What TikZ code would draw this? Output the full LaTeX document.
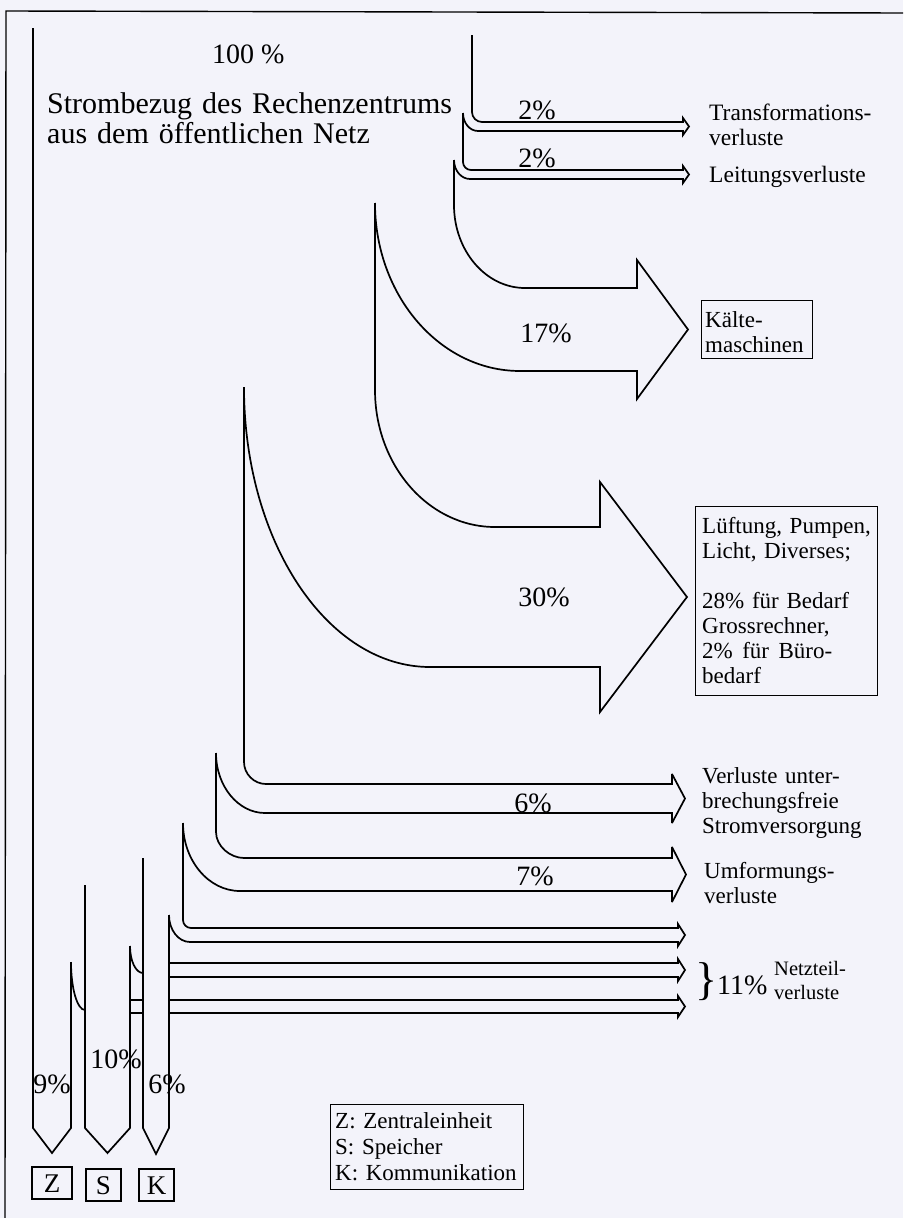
\documentclass[tikz,border=0pt]{standalone}
\usepackage{fontspec}
\setmainfont{Liberation Serif}
\definecolor{paper}{RGB}{243,243,250}
\begin{document}
\begin{tikzpicture}[x=1pt,y=-1pt,
  ln/.style={line width=1.7pt, line join=miter, miter limit=4},
  pct/.style={font=\fontsize{28}{30}\selectfont, inner sep=0pt},
  txt/.style={font=\fontsize{23}{25}\selectfont, inner sep=0pt, align=left},
  boxed/.style={draw, line width=1.4pt, inner sep=0pt},
  letter/.style={draw, line width=1.4pt, inner sep=0pt, text height=18pt, text depth=0pt, font=\fontsize{27}{27}\selectfont}]

\fill[paper] (0,0) rectangle (903,1218);
\useasboundingbox (0,0) rectangle (903,1218);

% frame
\draw[line width=1.4pt] (5,1218) -- (6,11) -- (903,13);

% ---- arrow 1: Transformationsverluste
\draw[ln] (472,35) -- (472,112) .. controls (472,117.5) and (476.5,122) .. (482,122) -- (683,122)
  -- (683,118) -- (689,126.5) -- (683,135) -- (683,131) -- (478,131)
  .. controls (469.7,131) and (463,122.9) .. (463,113);
% ---- arrow 2: Leitungsverluste
\draw[ln] (463,113) -- (463,162) .. controls (463,166.4) and (466.6,170) .. (471,170) -- (683,170)
  -- (683,166) -- (689,174.5) -- (683,183) -- (683,179) -- (470,179)
  .. controls (461.2,179) and (454,170.5) .. (454,160);
% ---- arrow 3: 17%
\draw[ln] (454,160) -- (454,205) .. controls (454,250.8) and (485.8,288) .. (525,288) -- (637,288)
  -- (637,260) -- (688,329.5) -- (637,399) -- (637,371) -- (520,371)
  .. controls (440,371) and (375,295.7) .. (375,203);
% ---- arrow 4: 30%
\draw[ln] (375,203) -- (375,390) .. controls (375,465.6) and (428.8,527) .. (495,527) -- (600,527)
  -- (600,482) -- (687,597) -- (600,712) -- (600,667) -- (430,667)
  .. controls (327.3,667) and (244,541.6) .. (244,387);
% ---- arrow 5: 6%
\draw[ln] (244,387) -- (244,762) .. controls (244,774) and (254,784) .. (266,784) -- (672,784)
  -- (672,774) -- (685,798.5) -- (672,823) -- (672,813) -- (265,813)
  .. controls (238,813) and (216,786) .. (216,753);
% ---- arrow 6: 7%
\draw[ln] (216,753) -- (216,832) .. controls (216,846) and (230,858) .. (244,858) -- (672,858)
  -- (672,847) -- (686,874.5) -- (672,902) -- (672,891) -- (240,891)
  .. controls (208.5,891) and (183,860.5) .. (183,823);
% ---- Netzteil arrow 1
\draw[ln] (183,823) -- (183,920) .. controls (183,924.4) and (186.6,928) .. (191,928) -- (678,928)
  -- (678,924) -- (685,935) -- (678,946) -- (678,942) -- (190,942)
  .. controls (178.4,942) and (169,929.9) .. (169,915);
% ---- Netzteil arrows 2 and 3
\draw[ln] (169,963) -- (678,963) -- (678,959) -- (685,970) -- (678,981) -- (678,977) -- (169,977);
\draw[ln] (169,1000) -- (678,1000) -- (678,996) -- (685,1006.5) -- (678,1017) -- (678,1013) -- (169,1013);
\draw[ln] (130,1000) -- (143,1000);
\draw[ln] (130,1013) -- (143,1013);

% ---- K arrow
\draw[ln] (169,915) -- (169,1128) -- (156,1154) -- (143,1128) -- (143,858);
% ---- S arrow
\draw[ln] (143,973) .. controls (135.8,973) and (130,960.9) .. (130,946);
\draw[ln] (130,946) -- (130,1128) -- (107.5,1153) -- (85,1128) -- (85,885);
% ---- Z arrow
\draw[ln] (85,1010) .. controls (77.3,1010) and (71,988.5) .. (71,962);
\draw[ln] (33,28) -- (33,1128) -- (52,1153) -- (71,1128) -- (71,962);

% ---- texts
\node[pct, anchor=base west] (hundert) at (212,63) {100 \%};
\node[pct, anchor=base west, text width=430pt, align=left, font=\fontsize{30}{30}\selectfont] (titel) at (47,113)
  {Strombezug des Rechenzentrums\\aus dem öffentlichen Netz};

\node[pct, anchor=base] (p1) at (537,119) {2\%};
\node[pct, anchor=base] (p2) at (537,167) {2\%};
\node[pct, anchor=base] (p3) at (546,342) {17\%};
\node[pct, anchor=base] (p4) at (544,606) {30\%};
\node[pct, anchor=base] (p5) at (533,812) {6\%};
\node[pct, anchor=base] (p6) at (535,885) {7\%};
\node[pct, anchor=base] (pz) at (52,1093) {9\%};
\node[pct, anchor=base] (ps) at (116,1068) {10\%};
\node[pct, anchor=base] (pk) at (167,1093) {6\%};

\node[txt, anchor=base west, text width=185pt, font=\fontsize{23.5}{25}\selectfont] (t1) at (709,120) {Transformations-\\verluste};
\node[txt, anchor=base west, font=\fontsize{23.5}{25}\selectfont] (t2) at (709,182) {Leitungsverluste};

\node[boxed, anchor=north west, minimum width=111pt, minimum height=58pt] (kbox) at (701,300) {};
\node[txt, anchor=base west, text width=105pt] (t3) at (705,327) {Kälte-\\maschinen};

\node[boxed, anchor=north west, minimum width=182pt, minimum height=189pt] (lbox) at (695,506) {};
\node[txt, anchor=base west, text width=174pt] (t4) at (702,533)
  {Lüftung, Pumpen,\\Licht, Diverses;\\[25pt]28\% für Bedarf\\Grossrechner,\\\makebox[130pt][s]{2\%\hfill für\hfill Büro-}\\bedarf};

\node[txt, anchor=base west, text width=180pt] (t5) at (702,783) {Verluste unter-\\brechungsfreie\\Stromversorgung};
\node[txt, anchor=base west, text width=180pt] (t6) at (704,878) {Umformungs-\\verluste};

\node[inner sep=0pt, anchor=base west, font=\fontsize{46}{46}\selectfont] (brace) at (695,994) {\}};
\node[pct, anchor=base west] (p11) at (717,994) {11\%};
\node[txt, anchor=base west, text width=90pt, font=\fontsize{20.5}{24}\selectfont] (t7) at (774,975) {Netzteil-\\verluste};

\node[boxed, anchor=north west, minimum width=193pt, minimum height=85pt] (legbox) at (330,1104) {};
\node[txt, anchor=base west, text width=185pt, font=\fontsize{23}{26}\selectfont] (leg) at (335,1128)
  {Z: Zentraleinheit\\S: Speicher\\K: Kommunikation};

\node[letter, minimum width=40pt, minimum height=32pt] (Z) at (52,1183) {Z};
\node[letter, minimum width=35pt, minimum height=32pt] (S) at (103.5,1185) {S};
\node[letter, minimum width=35pt, minimum height=32pt] (K) at (156.5,1185) {K};
\end{tikzpicture}
\end{document}
